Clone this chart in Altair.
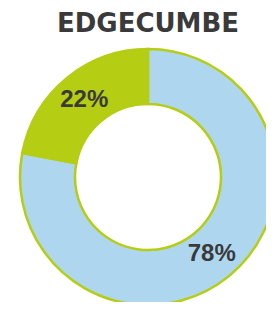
import altair as alt
import pandas as pd

segments = ["Rest", "Edgecumbe"]
shares = [78, 22]
labels = ["78%", "22%"]
colors = ["#afd6ef", "#b5cd12"]

df = pd.DataFrame({"segment": segments, "share": shares, "label": labels, "idx": [0, 1]})

base = alt.Chart(df).encode(
    theta=alt.Theta("share:Q", stack=True),
    order=alt.Order("idx:O"),
)
arcs = base.mark_arc(outerRadius=128, innerRadius=73, stroke="#b5cd12", strokeWidth=2.5).encode(
    color=alt.Color("segment:N", scale=alt.Scale(domain=segments, range=colors), legend=None)
)
text = base.mark_text(radius=100, font="Liberation Sans", fontSize=24, fontWeight="bold",
                      color="#3a3a3a").encode(text="label:N")

chart = (arcs + text).properties(
    width=236, height=250,
    autosize=alt.AutoSizeParams(type="none"),
    padding={"left": 22, "top": 44, "right": 0, "bottom": 0},
    title=alt.TitleParams("EDGECUMBE", fontSize=26, font="DejaVu Sans", fontWeight="bold",
                          color="#3a3a3a", offset=7),
).configure_view(stroke=None)

chart.save("out.html", embed_options={"renderer": "svg", "actions": False})
